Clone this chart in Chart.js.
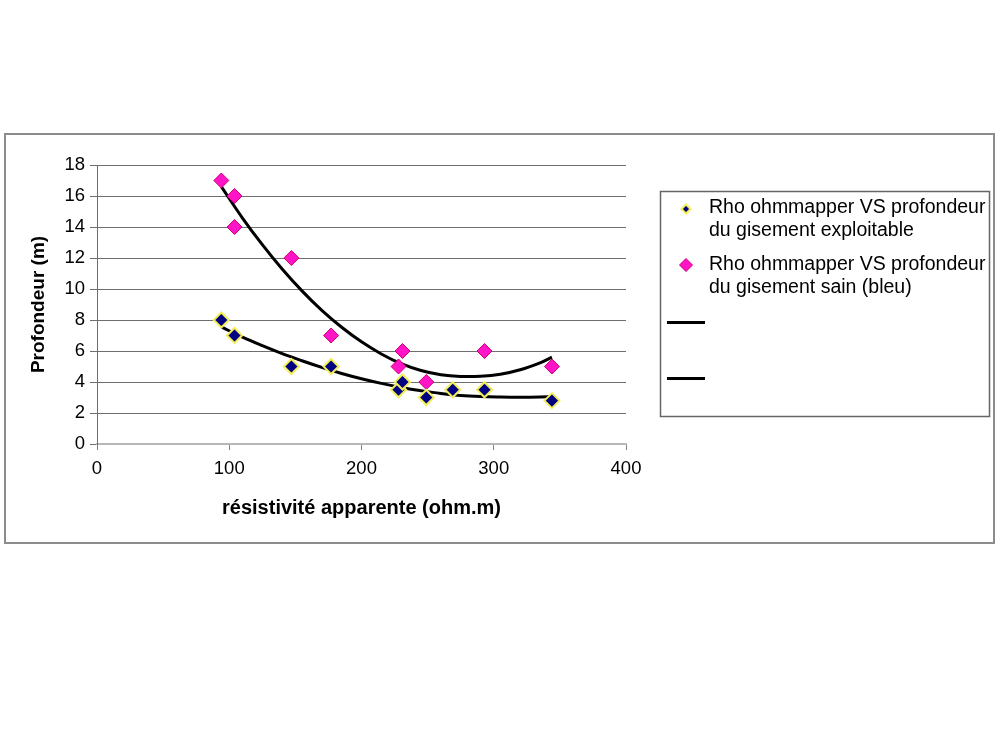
<!DOCTYPE html>
<html>
<head>
<meta charset="utf-8">
<script src="https://cdn.jsdelivr.net/npm/chart.js@4.4.1/dist/chart.umd.min.js"></script>
<style>
html,body{margin:0;padding:0;background:#ffffff;}
#wrap{width:1000px;height:750px;position:relative;}
</style>
</head>
<body>
<div id="wrap"><canvas id="c" width="1000" height="750"></canvas></div>
<script>
// ---- data ----
const resExploitable  = [94, 104, 147, 177, 228, 231, 249, 269, 293, 344];
const profExploitable = [8, 7, 5, 5, 3.5, 4, 3, 3.5, 3.5, 2.8];
const resSain  = [94, 104, 104, 147, 177, 228, 231, 249, 293, 344];
const profSain = [17, 16, 14, 12, 7, 5, 6, 4, 6, 5];

// trend curves
const trendX           = [94, 110, 125, 140, 155, 170, 185, 200, 215, 230, 245, 260, 275, 290, 305, 320, 335, 344];
const trendSain        = [16.6, 14.58, 12.86, 11.29, 9.88, 8.62, 7.53, 6.59, 5.81, 5.18, 4.74, 4.47, 4.36, 4.37, 4.50, 4.79, 5.24, 5.60];
const trendExploitable = [7.55, 6.89, 6.34, 5.83, 5.37, 4.94, 4.55, 4.21, 3.91, 3.65, 3.44, 3.26, 3.13, 3.06, 3.03, 3.02, 3.03, 3.05];

const xTicks = [0, 100, 200, 300, 400];
const yTicks = [0, 2, 4, 6, 8, 10, 12, 14, 16, 18];

const legendLines = [
  ['Rho ohmmapper VS profondeur', 'du gisement exploitable'],
  ['Rho ohmmapper VS profondeur', 'du gisement sain (bleu)']
];

const FAM = '"Liberation Sans", Arial, sans-serif';

function pts(xs, ys) { return xs.map((x, i) => ({x: x, y: ys[i]})); }

const frame = {
  id: 'frame',
  beforeDraw(chart) {
    const c = chart.ctx;
    c.save();
    c.fillStyle = '#ffffff';
    c.fillRect(0, 0, chart.width, chart.height);
    c.strokeStyle = '#8c8c8c';
    c.lineWidth = 2;
    c.strokeRect(5, 134, 989, 409);
    c.restore();
  },
  afterDraw(chart) {
    const c = chart.ctx;
    c.save();
    // legend box
    c.strokeStyle = '#666666';
    c.lineWidth = 1.5;
    c.strokeRect(660.5, 191.5, 329, 225);
    c.font = '19.5px ' + FAM;
    c.fillStyle = '#000';
    c.textBaseline = 'middle';
    const diamond = (x, y, r, fill, stroke, lw) => {
      c.beginPath();
      c.moveTo(x, y - r); c.lineTo(x + r, y); c.lineTo(x, y + r); c.lineTo(x - r, y); c.closePath();
      c.fillStyle = fill; c.fill();
      c.strokeStyle = stroke; c.lineWidth = lw; c.stroke();
    };
    const ds = chart.data.datasets;
    diamond(686, 209, 4.5, ds[0].backgroundColor, ds[0].borderColor, 2);
    diamond(686, 265, 6.5, ds[1].backgroundColor, ds[1].borderColor, 1);
    c.fillStyle = '#000';
    c.fillText(legendLines[0][0], 709, 208);
    c.fillText(legendLines[0][1], 709, 231);
    c.fillText(legendLines[1][0], 709, 265);
    c.fillText(legendLines[1][1], 709, 288);
    c.strokeStyle = '#000';
    c.lineWidth = 3;
    c.beginPath();
    c.moveTo(667, 322.5); c.lineTo(705, 322.5);
    c.moveTo(667, 378.5); c.lineTo(705, 378.5);
    c.stroke();
    c.restore();
  }
};

new Chart(document.getElementById('c'), {
  type: 'scatter',
  data: {
    datasets: [
      {
        label: 'exploitable',
        data: pts(resExploitable, profExploitable),
        backgroundColor: '#000080',
        borderColor: '#f2ee5a',
        borderWidth: 2,
        pointStyle: 'rectRot',
        pointRadius: 7.5,
        order: 0
      },
      {
        label: 'sain',
        data: pts(resSain, profSain),
        backgroundColor: '#ff14c8',
        borderColor: '#d0006e',
        borderWidth: 1,
        pointStyle: 'rectRot',
        pointRadius: 7.5,
        order: 0
      },
      {
        label: 'trend exploitable',
        type: 'line',
        data: pts(trendX, trendExploitable),
        borderColor: '#000000',
        borderWidth: 3,
        pointRadius: 0,
        tension: 0.4,
        fill: false,
        order: 1
      },
      {
        label: 'trend sain',
        type: 'line',
        data: pts(trendX, trendSain),
        borderColor: '#000000',
        borderWidth: 3,
        pointRadius: 0,
        tension: 0.4,
        fill: false,
        order: 1
      }
    ]
  },
  options: {
    responsive: false,
    animation: false,
    devicePixelRatio: 1,
    layout: { padding: { left: 27, top: 165, right: 374, bottom: 230 } },
    plugins: { legend: { display: false }, tooltip: { enabled: false } },
    scales: {
      x: {
        type: 'linear',
        min: xTicks[0], max: xTicks[xTicks.length - 1],
        afterBuildTicks: s => { s.ticks = xTicks.map(v => ({value: v})); },
        ticks: { font: { family: FAM, size: 18.5 }, color: '#000', padding: 8, maxRotation: 0 },
        grid: { drawOnChartArea: false, drawTicks: true, tickLength: 6, color: '#808080' },
        border: { color: '#b8b8b8', width: 2 },
        title: { display: true, text: 'résistivité apparente (ohm.m)', font: { family: FAM, size: 20, weight: 'bold' }, color: '#000', padding: 0 },
        afterFit: s => { s.height = 76; }
      },
      y: {
        type: 'linear',
        min: yTicks[0], max: yTicks[yTicks.length - 1],
        afterBuildTicks: s => { s.ticks = yTicks.map(v => ({value: v})); },
        ticks: { font: { family: FAM, size: 18.5 }, color: '#000', padding: 5 },
        grid: {
          color: ctx => (ctx.tick && ctx.tick.value === 0) ? 'rgba(0,0,0,0)' : '#6e6e6e',
          tickColor: '#6e6e6e',
          tickLength: 7,
          lineWidth: 1
        },
        border: { color: '#6e6e6e', width: 1 },
        title: { display: true, text: 'Profondeur (m)', font: { family: FAM, size: 19, weight: 'bold' }, color: '#000', padding: 0 },
        afterFit: s => { s.width = 97 - 27; }
      }
    }
  },
  plugins: [frame]
});
</script>
</body>
</html>
